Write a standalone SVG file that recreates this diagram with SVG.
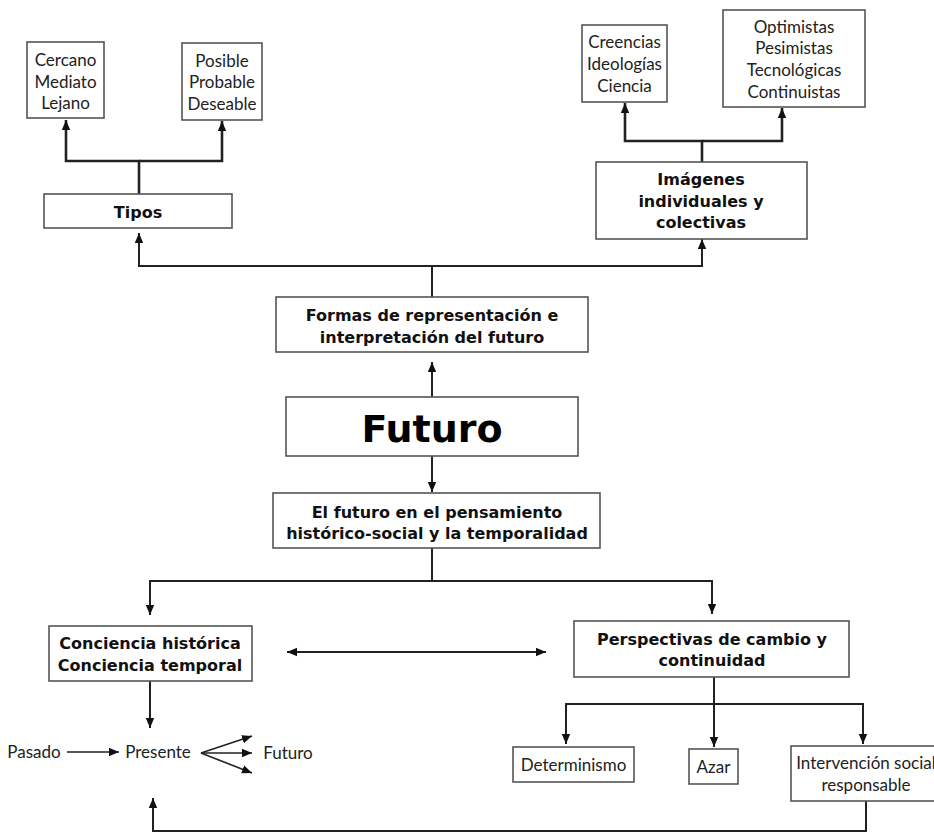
<svg xmlns="http://www.w3.org/2000/svg" width="934" height="832" viewBox="0 0 934 832">
<style>
.box{fill:#fff;stroke:#555;stroke-width:1.6}
.t{font-family:Lato,"Open Sans",sans-serif;font-size:17px;fill:#222;text-anchor:middle}
.b{font-family:"DejaVu Sans",Verdana,sans-serif;font-size:16px;font-weight:bold;fill:#111;text-anchor:middle}
.big{font-family:"DejaVu Sans",Verdana,sans-serif;font-size:38px;font-weight:bold;fill:#000;text-anchor:middle}
.c{fill:none;stroke:#222;stroke-width:2}
.c2{fill:none;stroke:#222;stroke-width:2.6}
.thin{stroke-width:1.6}
</style>
<defs>
<marker id="ah" markerUnits="userSpaceOnUse" markerWidth="10" markerHeight="10" viewBox="0 0 10 10" refX="10" refY="5" orient="auto">
<path d="M0,0.8 L10,5 L0,9.2 z" fill="#111"/>
</marker>
</defs>
<rect width="934" height="832" fill="#fff"/>
<g id="connectors">
<path class="c2" d="M139,194 V161 H66 V120" marker-end="url(#ah)"/>
<path class="c2" d="M139,161 H222 V121" marker-end="url(#ah)"/>
<path class="c2" d="M702,162 V141 H625 V103" marker-end="url(#ah)"/>
<path class="c2" d="M702,141 H782 V108" marker-end="url(#ah)"/>
<path class="c" d="M432,297 V266 H139 V233" marker-end="url(#ah)"/>
<path class="c" d="M432,266 H702 V239" marker-end="url(#ah)"/>
<path class="c" d="M432,397 V362" marker-end="url(#ah)"/>
<path class="c" d="M432,456 V492" marker-end="url(#ah)"/>
<path class="c" d="M432,548 V581 H150 V615" marker-end="url(#ah)"/>
<path class="c" d="M432,581 H712 V614" marker-end="url(#ah)"/>
<path class="c" d="M300,652 H546" marker-end="url(#ah)"/>
<path class="c" d="M535,652 H287" marker-end="url(#ah)"/>
<path class="c" d="M150,681 V728" marker-end="url(#ah)"/>
<path class="c" d="M714,677 V747" marker-end="url(#ah)"/>
<path class="c" d="M714,704 H566 V744" marker-end="url(#ah)"/>
<path class="c" d="M714,704 H863 V744" marker-end="url(#ah)"/>
<path class="c" d="M866,801 V831 H153 V798" marker-end="url(#ah)"/>
<path class="c thin" d="M67,752 H119" marker-end="url(#ah)"/>
<path class="c thin" d="M201,753 L252,736" marker-end="url(#ah)"/>
<path class="c thin" d="M201,753 H252" marker-end="url(#ah)"/>
<path class="c thin" d="M201,753 L252,773" marker-end="url(#ah)"/>
</g>
<g id="cercano"><rect class="box" x="27" y="42" width="77" height="76"/>
<text class="t" x="65.5" y="66">Cercano</text><text class="t" x="65.5" y="88">Mediato</text><text class="t" x="65.5" y="109">Lejano</text></g>
<g id="posible"><rect class="box" x="182" y="43" width="80" height="77"/>
<text class="t" x="222" y="67">Posible</text><text class="t" x="222" y="88">Probable</text><text class="t" x="222" y="110">Deseable</text></g>
<g id="creencias"><rect class="box" x="582" y="25" width="85" height="77"/>
<text class="t" x="624.5" y="48">Creencias</text><text class="t" x="624.5" y="70">Ideologías</text><text class="t" x="624.5" y="92">Ciencia</text></g>
<g id="optimistas"><rect class="box" x="723" y="10" width="142" height="97"/>
<text class="t" x="794" y="33">Optimistas</text><text class="t" x="794" y="54">Pesimistas</text><text class="t" x="794" y="76">Tecnológicas</text><text class="t" x="794" y="98">Continuistas</text></g>
<g id="tipos"><rect class="box" x="44" y="194" width="188" height="34"/>
<text class="b" x="138" y="218">Tipos</text></g>
<g id="imagenes"><rect class="box" x="596" y="162" width="211" height="77"/>
<text class="b" x="701" y="185">Imágenes</text><text class="b" x="701" y="207">individuales y</text><text class="b" x="701" y="228">colectivas</text></g>
<g id="formas"><rect class="box" x="276" y="297" width="312" height="55"/>
<text class="b" x="432" y="321">Formas de representación e</text><text class="b" x="432" y="343">interpretación del futuro</text></g>
<g id="futuro"><rect class="box" x="286" y="397" width="292" height="59"/>
<text class="big" x="432" y="442">Futuro</text></g>
<g id="elfuturo"><rect class="box" x="273" y="493" width="327" height="55"/>
<text class="b" x="437" y="518">El futuro en el pensamiento</text><text class="b" x="437" y="539">histórico-social y la temporalidad</text></g>
<g id="conciencia"><rect class="box" x="49" y="626" width="203" height="55"/>
<text class="b" x="150" y="649">Conciencia histórica</text><text class="b" x="150" y="671">Conciencia temporal</text></g>
<g id="perspectivas"><rect class="box" x="574" y="621" width="275" height="56"/>
<text class="b" x="712" y="645">Perspectivas de cambio y</text><text class="b" x="712" y="666">continuidad</text></g>
<g id="determinismo"><rect class="box" x="513" y="747" width="121" height="35"/>
<text class="t" x="573.5" y="771">Determinismo</text></g>
<g id="azar"><rect class="box" x="689" y="749" width="49" height="35"/>
<text class="t" x="713.5" y="773">Azar</text></g>
<g id="intervencion"><rect class="box" x="791" y="746" width="150" height="55"/>
<text class="t" x="866" y="769">Intervención social</text><text class="t" x="866" y="791">responsable</text></g>
<g id="pasado"><text class="t" x="34" y="758">Pasado</text></g>
<g id="presente"><text class="t" x="158" y="758">Presente</text></g>
<g id="futuro-label"><text class="t" x="288" y="759">Futuro</text></g>
</svg>
